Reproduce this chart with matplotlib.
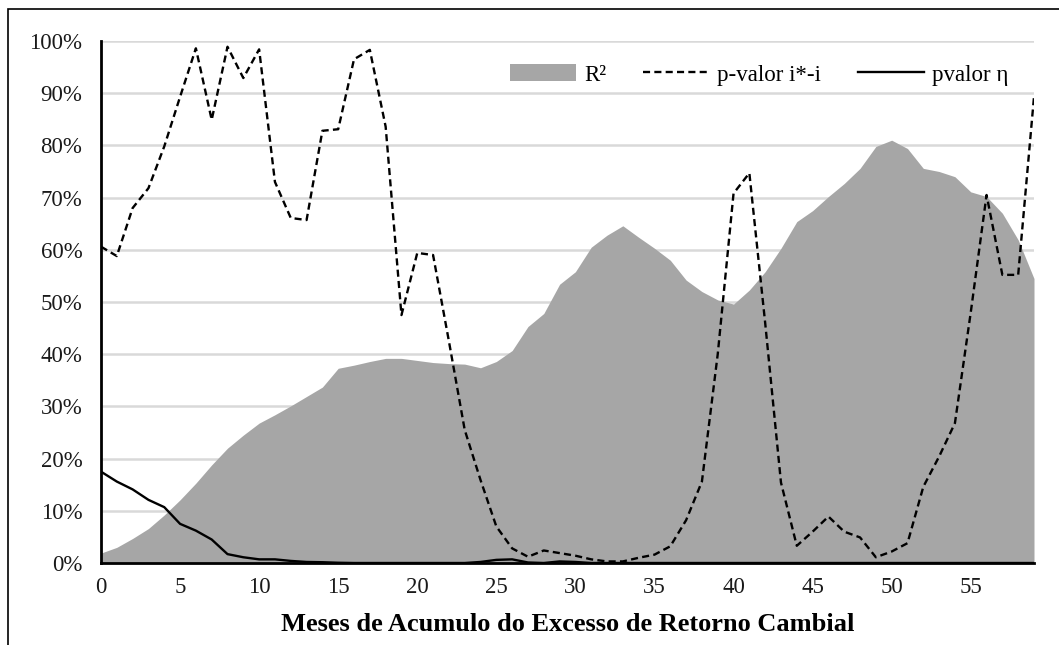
import numpy as np
import matplotlib
matplotlib.use('Agg')
import matplotlib.pyplot as plt
from matplotlib.patches import Rectangle, Patch
from matplotlib.lines import Line2D
from matplotlib.ticker import PercentFormatter

plt.rcParams['font.family'] = ['Liberation Serif', 'DejaVu Serif']

meses = np.arange(0, 60)

r2 = [1.9, 3.0, 4.7, 6.6, 9.2, 12.1, 15.3, 18.8, 22.0, 24.5,
      26.8, 28.4, 30.1, 31.9, 33.7, 37.3, 37.9, 38.6, 39.2, 39.2,
      38.8, 38.4, 38.2, 38.1, 37.4, 38.6, 40.7, 45.3, 47.8, 53.4,
      55.8, 60.5, 62.8, 64.6, 62.4, 60.3, 58.0, 54.2, 52.0, 50.4,
      49.6, 52.3, 55.8, 60.3, 65.4, 67.5, 70.2, 72.7, 75.6, 79.8,
      81.0, 79.4, 75.6, 75.0, 74.0, 71.1, 70.2, 67.0, 61.9, 54.5]

p_ii = [60.6, 58.8, 68.0, 71.8, 79.8, 89.3, 98.6, 84.9, 98.9, 92.9,
        98.4, 73.0, 66.1, 65.7, 82.8, 83.1, 96.5, 98.3, 83.6, 47.5,
        59.4, 59.0, 42.5, 25.5, 15.9, 7.0, 2.8, 1.2, 2.4, 1.9,
        1.4, 0.7, 0.3, 0.3, 1.0, 1.6, 3.2, 8.2, 15.6, 40.0,
        70.8, 74.7, 46.0, 15.4, 3.3, 6.0, 8.9, 6.0, 4.9, 1.1,
        2.2, 3.8, 14.6, 20.4, 26.8, 48.0, 70.5, 55.2, 55.2, 89.3]

p_eta = [17.5, 15.6, 14.1, 12.1, 10.7, 7.5, 6.2, 4.5, 1.7, 1.1,
         0.7, 0.7, 0.4, 0.2, 0.15, 0.05, 0.0, 0.0, 0.0, 0.0,
         0.0, 0.0, 0.0, 0.0, 0.2, 0.6, 0.7, 0.1, 0.0, 0.3,
         0.2, 0.0, 0.0, 0.0, 0.0, 0.0, 0.0, 0.0, 0.0, 0.0,
         0.0, 0.0, 0.0, 0.0, 0.0, 0.0, 0.0, 0.0, 0.0, 0.0,
         0.0, 0.0, 0.0, 0.0, 0.0, 0.0, 0.0, 0.0, 0.0, 0.0]

fig = plt.figure(figsize=(10.59, 6.45), dpi=100)
ax = fig.add_axes([101/1059, 1-563/645, (1034-101)/1059, (563-41)/645])

ax.fill_between(meses, 0, np.array(r2)/100, color='#a6a6a6', lw=0, zorder=2)
ax.plot(meses, np.array(p_ii)/100, color='black', ls=(0, (3, 1.8)), lw=1.7, zorder=3)
ax.plot(meses, np.array(p_eta)/100, color='black', lw=1.7, zorder=3)

ax.set_xlim(0, 59)
ax.set_ylim(0, 1.0)
ax.set_xticks(np.arange(0, 60, 5))
ax.set_yticks(np.arange(0, 1.01, 0.1))
ax.yaxis.set_major_formatter(PercentFormatter(1.0, decimals=0))
ax.grid(axis='y', color='#d9d9d9', lw=1.8, zorder=0)
ax.set_axisbelow(True)
ax.tick_params(length=0, labelsize=16.5, colors='#1a1a1a')
ax.tick_params(axis='y', pad=13.5)
ax.tick_params(axis='x', pad=10)
for s in ['top', 'right']:
    ax.spines[s].set_visible(False)
ax.spines['left'].set_linewidth(2)
ax.spines['bottom'].set_linewidth(2)
ax.spines['left'].set_zorder(4)
ax.spines['bottom'].set_zorder(4)

ax.set_xlabel('Meses de Acumulo do Excesso de Retorno Cambial', fontsize=19,
              fontweight='bold', labelpad=11)

handles = [Patch(facecolor='#a6a6a6', edgecolor='none'),
           Line2D([], [], color='black', ls=(0, (3, 1.8)), lw=1.7),
           Line2D([], [], color='black', lw=1.7)]
ax.legend(handles, ['R²', 'p-valor i*-i', 'pvalor η'], ncol=3, frameon=False,
          loc='upper right', bbox_to_anchor=(0.995, 0.995), fontsize=16.5,
          handlelength=2.9, handleheight=0.75, columnspacing=1.6, handletextpad=0.35)

# moldura externa
fig.patches.append(Rectangle((8/1059, -0.1), 1.2, 1.1 - 9/645,
                             transform=fig.transFigure, fill=False,
                             edgecolor='black', lw=1.2))

fig.savefig('out.png', dpi=100)
